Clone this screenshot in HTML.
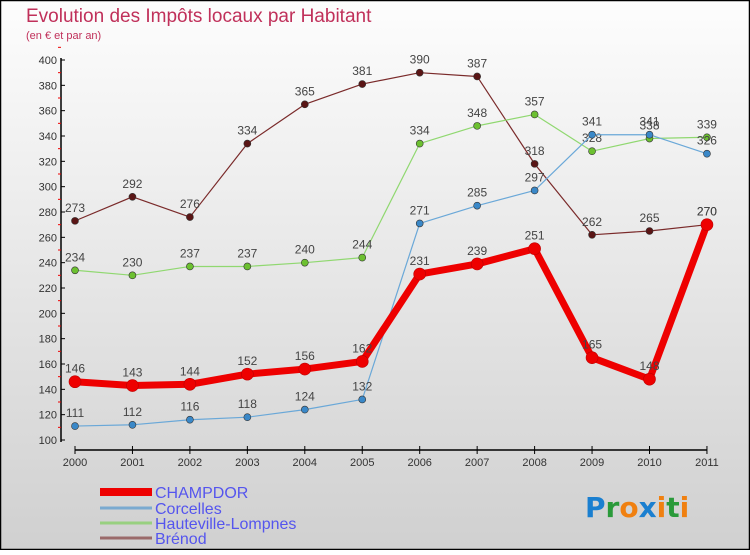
<!DOCTYPE html>
<html><head><meta charset="utf-8"><style>
html,body{margin:0;padding:0}
body{width:750px;height:550px;overflow:hidden;font-family:"Liberation Sans",sans-serif}
</style></head><body>
<svg width="750" height="550" xmlns="http://www.w3.org/2000/svg" id="svg">
<defs><linearGradient id="bg" x1="0" y1="0" x2="0" y2="1"><stop offset="0" stop-color="#fdfdfd"/><stop offset="1" stop-color="#d0d0d0"/></linearGradient></defs>
<rect x="0.5" y="0.5" width="749" height="549" fill="url(#bg)" stroke="#000" stroke-width="1.5"/>
<text x="26" y="22" font-size="19" fill="#c0305a">Evolution des Impôts locaux par Habitant</text>
<text x="26" y="39" font-size="11" fill="#c0305a">(en € et par an)</text>
<g id="axes"></g>
<g id="series"></g>
<g id="legend"></g>
<text x="585" y="517" font-size="28" font-weight="bold" font-family="DejaVu Sans, sans-serif"><tspan fill="#1a7fd0">P</tspan><tspan fill="#2a9a3a">r</tspan><tspan fill="#f08010">o</tspan><tspan fill="#1a7fd0">x</tspan><tspan fill="#f08010">i</tspan><tspan fill="#2a9a3a">t</tspan><tspan fill="#f08010">i</tspan></text>
</svg>
<script>
const years=[2000,2001,2002,2003,2004,2005,2006,2007,2008,2009,2010,2011];
const champdor=[146,143,144,152,156,162,231,239,251,165,148,270];
const corcelles=[111,112,116,118,124,132,271,285,297,341,341,326];
const hauteville=[234,230,237,237,240,244,334,348,357,328,338,339];
const brenod=[273,292,276,334,365,381,390,387,318,262,265,270];
const yTicks=[100,120,140,160,180,200,220,240,260,280,300,320,340,360,380,400];
const NS='http://www.w3.org/2000/svg';
const x=i=>75+i*57.45;
const y=v=>440-(v-100)*380/300;
function mk(tag,attrs,parent,txt){const e=document.createElementNS(NS,tag);for(const k in attrs)e.setAttribute(k,attrs[k]);if(txt!==undefined)e.textContent=txt;parent.appendChild(e);return e;}
const axes=document.getElementById('axes');
let ya=mk('line',{x1:61,y1:58,x2:61,y2:442,stroke:'#000','stroke-width':1.5},axes);

yTicks.forEach(t=>{
 mk('line',{x1:61,y1:y(t),x2:65,y2:y(t),stroke:'#000'},axes);
 mk('line',{x1:58,y1:y(t+10),x2:61,y2:y(t+10),stroke:'#e00'},axes);
 const l=mk('text',{x:57,y:y(t)+4,'font-size':11,'text-anchor':'end',fill:'#333'},axes,t);
 
});
let xa=mk('line',{x1:75,y1:450,x2:707,y2:450,stroke:'#000','stroke-width':1.5},axes);

years.forEach((yr,i)=>{
 mk('line',{x1:x(i),y1:446,x2:x(i),y2:454,stroke:'#000'},axes);
 const l=mk('text',{x:x(i),y:466,'font-size':11,'text-anchor':'middle',fill:'#333'},axes,yr);
 
});
const series=[
 {name:'brenod',vals:brenod,color:'#7a2a2a',dot:'#5a1515',w:1.2,r:3.5},
 {name:'hauteville-lompnes',vals:hauteville,color:'#90d870',dot:'#6cc030',w:1.2,r:3.5},
 {name:'corcelles',vals:corcelles,color:'#6aa8d8',dot:'#3a88c8',w:1.2,r:3.5},
 {name:'champdor',vals:champdor,color:'#ee0000',dot:'#ee0000',w:7,r:6}
];
const sg=document.getElementById('series');
series.forEach(s=>{
 const g=mk('g',{},sg);
 
 const p=mk('polyline',{points:s.vals.map((v,i)=>x(i)+','+y(v)).join(' '),fill:'none',stroke:s.color,'stroke-width':s.w,'stroke-linejoin':'round'},g);
 
 s.vals.forEach((v,i)=>{
  const c=mk('circle',{cx:x(i),cy:y(v),r:s.r,fill:s.dot,stroke:s.name==='champdor'?'#b00':'#333','stroke-width':0.6},g);
  
  const t=mk('text',{x:x(i),y:y(v)-9,'font-size':12,'text-anchor':'middle',fill:'#444'},g,v);
  
 });
});
const lg=document.getElementById('legend');
const leg=[['CHAMPDOR','#ee0000',8,492],['Corcelles','#7aaad0',3,508],['Hauteville-Lompnes','#98d080',3,523],['Brénod','#9a6a6a',3,538]];
leg.forEach(l=>{
 const g=mk('g',{},lg);
 
 mk('line',{x1:100,y1:l[3],x2:152,y2:l[3],stroke:l[1],'stroke-width':l[2]},g);
 mk('text',{x:155,y:l[3]+6,'font-size':16,fill:'#5555ee'},g,l[0]);
});
</script>
</body></html>
